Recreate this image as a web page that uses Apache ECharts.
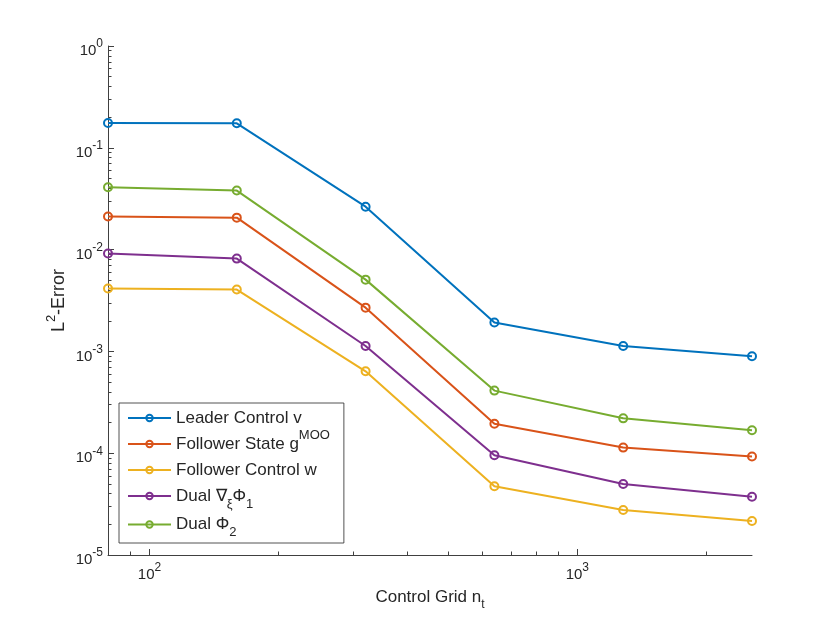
<!DOCTYPE html>
<html>
<head>
<meta charset="utf-8">
<script src="https://cdn.jsdelivr.net/npm/echarts@6/dist/echarts.min.js"></script>
<style>
html, body { margin: 0; padding: 0; background: #fff; }
#main { width: 830px; height: 623px; }
</style>
</head>
<body>
<div id="main"></div>
<script>
const gridSizes = [80, 160, 320, 640, 1280, 2560]
const leaderControl = [0.175, 0.174, 0.0264, 0.00192, 0.00113, 0.000895]
const followerState = [0.0211, 0.0206, 0.00269, 0.000195, 0.0001135, 0.0000927]
const followerControl = [0.00414, 0.00405, 0.000637, 0.0000473, 0.0000277, 0.0000216]
const dualNabla = [0.00914, 0.00816, 0.00113, 0.0000953, 0.0000498, 0.0000374]
const dualPhi = [0.0409, 0.038, 0.00507, 0.000412, 0.00022, 0.000168]

const seriesNames = ['Leader Control v', 'Follower State g^MOO', 'Follower Control w', 'Dual nabla Phi1', 'Dual Phi2']
// gt/gb/gx are empty tokens that give the legend rows their heights
const seriesLabels = [
    '{n|Leader Control v}{gt|\u200b}{gb|\u200b}',
    '{n|Follower State g}{sup|MOO}{gb|\u200b}',
    '{n|Follower Control w}{gt|\u200b}{gb|\u200b}',
    '{n|Dual ∇}{sub|ξ}{n|Φ}{sub|1}{gt|\u200b}',
    '{n|Dual Φ}{sub|2}{gt|\u200b}{gx|\u200b}'
]
const seriesValues = [leaderControl, followerState, followerControl, dualNabla, dualPhi]
const seriesColors = ['#0072BD', '#D95319', '#EDB120', '#7E2F8E', '#77AC30']

const xTicks = [100, 1000]
const yTicks = [1e-5, 1e-4, 1e-3, 1e-2, 1e-1, 1]

const font = 'Liberation Sans, Arial, Helvetica, sans-serif'
const axisColor = '#404040'
const textColor = '#262626'
const ghost = 'rgba(0,0,0,0)'

// 10^k labels with the exponent raised
function powLabel(v) {
    const e = Math.round(Math.log10(v))
    if (Math.abs(Math.log10(v) - e) > 1e-6) return ''
    return '{b|10}{s|' + e + '}'
}
const tickRich = {
    b: { fontSize: 15, lineHeight: 24, padding: [10, 0, 0, 0], color: textColor, fontFamily: font },
    s: { fontSize: 12, lineHeight: 12, padding: [4, 0, 0, 0], verticalAlign: 'top', color: textColor, fontFamily: font }
}

let chart = echarts.init(document.getElementById('main'))
chart.setOption({
    animation: false,
    backgroundColor: '#fff',
    grid: {
        left: 108,
        right: 78,
        top: 46,
        bottom: 68
    },
    legend: {
        orient: 'vertical',
        left: 119,
        top: 403,
        padding: [0, 14, 1, 8],
        itemGap: -4,
        itemWidth: 43,
        itemHeight: 8,
        selectedMode: false,
        backgroundColor: '#fff',
        borderColor: '#262626',
        borderWidth: 0.8,
        borderRadius: 0,
        formatter: function (name) {
            return seriesLabels[seriesNames.indexOf(name)]
        },
        textStyle: {
            color: textColor,
            fontFamily: font,
            rich: {
                n: { fontSize: 17, lineHeight: 22, color: textColor, fontFamily: font },
                sup: { fontSize: 13, lineHeight: 4, padding: [0, 0, 17, 0], color: textColor, fontFamily: font },
                sub: { fontSize: 13, lineHeight: 4, padding: [16, 0, 0, 0], color: textColor, fontFamily: font },
                gt: { fontSize: 13, lineHeight: 4, padding: [0, 0, 17, 0], color: ghost, fontFamily: font },
                gb: { fontSize: 13, lineHeight: 4, padding: [16, 0, 0, 0], color: ghost, fontFamily: font },
                gx: { fontSize: 13, lineHeight: 4, padding: [22, 0, 0, 0], color: ghost, fontFamily: font }
            }
        },
        data: seriesNames
    },
    xAxis: {
        type: 'log',
        min: 80,
        max: 2560,
        name: '{b|Control Grid n}{t|t}',
        nameLocation: 'middle',
        nameGap: 32,
        nameMoveOverlap: false,
        nameTextStyle: {
            rich: {
                b: { fontSize: 17, lineHeight: 20, color: textColor, fontFamily: font },
                t: { fontSize: 12, lineHeight: 12, padding: [16, 0, 0, 0], color: textColor, fontFamily: font }
            }
        },
        axisLine: { show: true, lineStyle: { color: axisColor, width: 1 } },
        axisTick: { show: true, inside: true, length: 6, customValues: xTicks, lineStyle: { color: axisColor, width: 1 } },
        minorTick: { show: true, splitNumber: 9, length: 3.5, lineStyle: { color: axisColor, width: 1 } },
        axisLabel: {
            margin: 2.5,
            customValues: xTicks,
            formatter: powLabel,
            rich: tickRich
        },
        splitLine: { show: false },
        minorSplitLine: { show: false }
    },
    yAxis: {
        type: 'log',
        min: 1e-5,
        max: 1,
        name: '{b|L}{s|2}{b|-Error}',
        nameLocation: 'middle',
        nameRotate: 90,
        nameGap: 40,
        nameMoveOverlap: false,
        nameTextStyle: {
            rich: {
                b: { fontSize: 18, lineHeight: 18, color: textColor, fontFamily: font },
                s: { fontSize: 13, lineHeight: 13, padding: [0, 0, 16, 0], color: textColor, fontFamily: font }
            }
        },
        axisLine: { show: true, lineStyle: { color: axisColor, width: 1 } },
        axisTick: { show: true, inside: true, length: 6, customValues: yTicks, lineStyle: { color: axisColor, width: 1 } },
        minorTick: { show: true, splitNumber: 9, length: 3.5, lineStyle: { color: axisColor, width: 1 } },
        axisLabel: {
            margin: 5,
            customValues: yTicks,
            formatter: powLabel,
            rich: tickRich
        },
        splitLine: { show: false },
        minorSplitLine: { show: false }
    },
    series: seriesNames.map(function (name, i) {
        return {
            name: name,
            type: 'line',
            data: gridSizes.map(function (x, j) { return [x, seriesValues[i][j]] }),
            symbol: 'circle',
            symbolSize: 8,
            lineStyle: { color: seriesColors[i], width: 2 },
            itemStyle: { color: 'rgba(255,255,255,0)', borderColor: seriesColors[i], borderWidth: 2 },
            emphasis: { disabled: true }
        }
    })
})
</script>
</body>
</html>
